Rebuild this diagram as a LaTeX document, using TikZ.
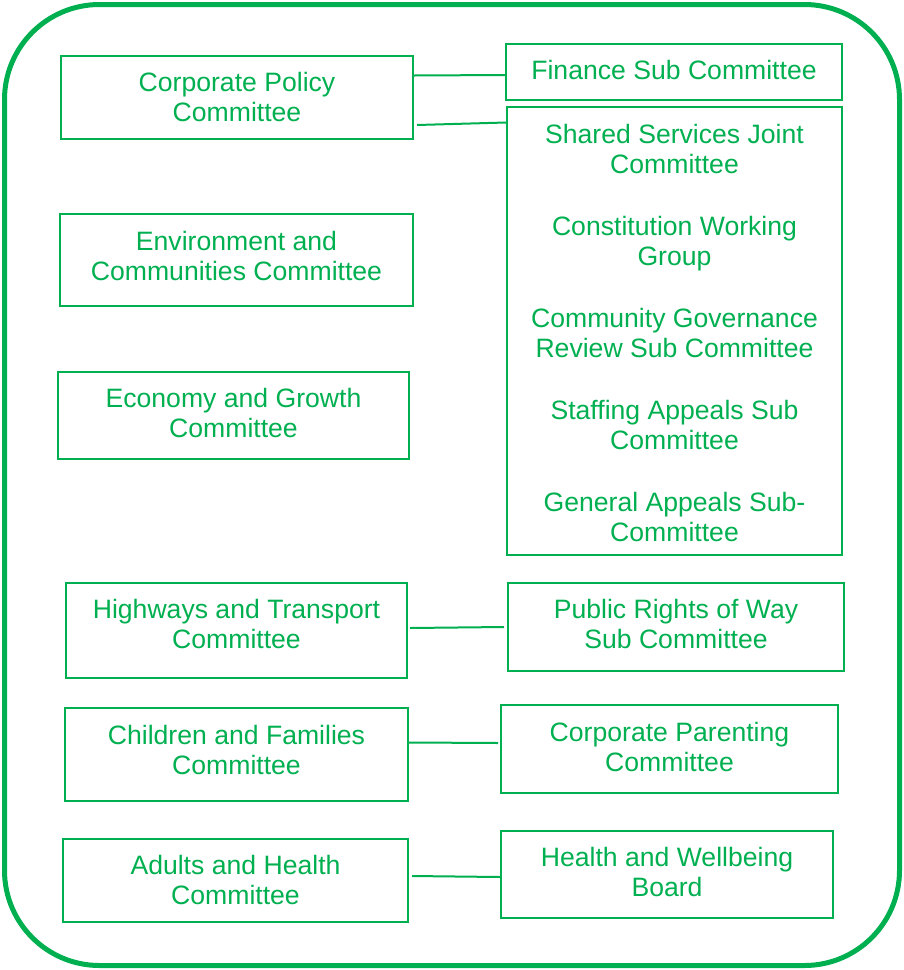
\documentclass[tikz,border=0pt]{standalone}
\usepackage{fontspec}
\setmainfont{Liberation Sans}
\usepackage{xcolor}
\usepackage{tikz}

\definecolor{cgreen}{HTML}{00B050}

\tikzset{
  cbox/.style={draw=cgreen, line width=2pt, inner sep=0pt, align=center,
    text=cgreen, font=\fontsize{26.6}{30}\selectfont},
  clink/.style={draw=cgreen, line width=2pt}
}

\begin{document}
\begin{tikzpicture}[x=1pt,y=-1pt]
\useasboundingbox (0,0) rectangle (904,970);
\draw[cgreen, line width=5pt, rounded corners=95pt] (4.5,4.5) rectangle (899.5,965.5);

% left column
\node[cbox, minimum width=352pt, minimum height=83pt, text depth=2pt] (cpc) at (237,97.5) {Corporate Policy\\Committee};
\node[cbox, minimum width=353pt, minimum height=92pt, text depth=8pt] (env) at (236.5,260) {Environment and\\Communities Committee};
\node[cbox, minimum width=351pt, minimum height=87pt, text depth=6pt] (eco) at (233.5,415.5) {Economy and Growth\\Committee};
\node[cbox, minimum width=341pt, minimum height=95pt, text depth=14pt] (hwy) at (236.5,630.5) {Highways and Transport\\Committee};
\node[cbox, minimum width=343pt, minimum height=93pt, text depth=10pt] (cf) at (236.5,754.5) {Children and Families\\Committee};
\node[cbox, minimum width=345pt, minimum height=83pt, text depth=2pt] (adh) at (235.5,880.5) {Adults and Health\\Committee};

% right column
\node[cbox, minimum width=336pt, minimum height=56pt, text depth=4pt] (fin) at (674,72) {Finance Sub Committee};
\node[cbox, minimum width=335pt, minimum height=448pt] (sub) at (674.5,331) {};
\node[text=cgreen, align=center, font=\fontsize{26.6}{30}\selectfont, anchor=north] (subs) at (674.5,121)
  {Shared Services Joint\\Committee\\[32pt]
   Constitution Working\\Group\\[32pt]
   Community Governance\\Review Sub Committee\\[32pt]
   Staffing Appeals Sub\\Committee\\[32pt]
   General Appeals Sub-\\Committee};
\node[cbox, minimum width=336pt, minimum height=88pt, text depth=6pt] (prow) at (676,627) {Public Rights of Way\\Sub Committee};
\node[cbox, minimum width=337pt, minimum height=88pt, text depth=4pt] (cpar) at (669.5,749) {Corporate Parenting\\Committee};
\node[cbox, minimum width=332pt, minimum height=87pt, text depth=6pt] (hwb) at (667,874.5) {Health and Wellbeing\\Board};

% connectors
\draw[clink] ([yshift=-20.5pt]cpc.north east) -- ([yshift=-3pt]fin.west);
\draw[clink] ([xshift=3pt,yshift=15pt]cpc.south east) -- ([yshift=-16.5pt]sub.north west);
\draw[clink] ([xshift=2pt,yshift=2.5pt]hwy.east) -- ([xshift=-3pt]prow.west);
\draw[clink] ([yshift=12pt]cf.east) -- ([xshift=-2pt,yshift=6pt]cpar.west);
\draw[clink] ([xshift=3pt,yshift=4.5pt]adh.east) -- ([yshift=-2.5pt]hwb.west);
\end{tikzpicture}
\end{document}
